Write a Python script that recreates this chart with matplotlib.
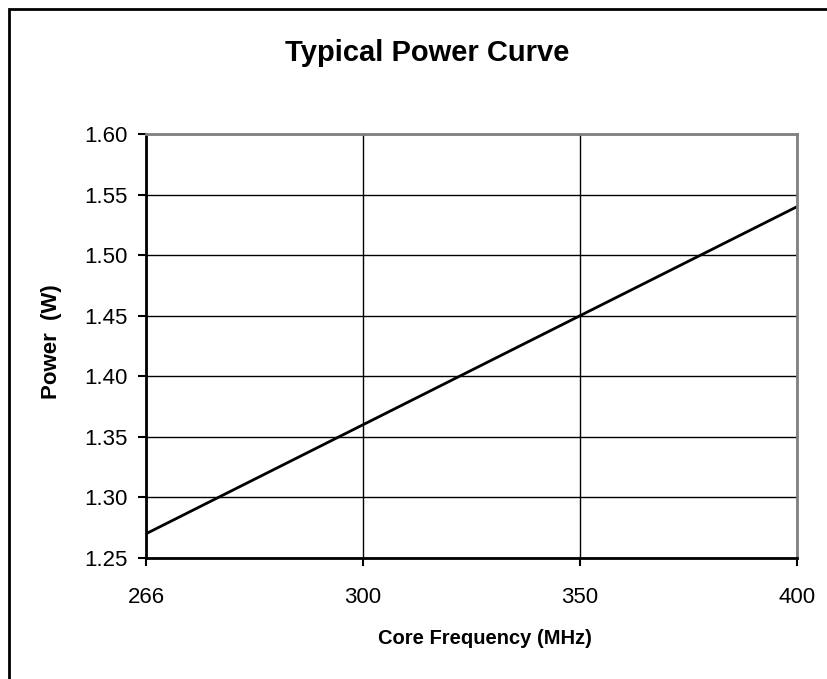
import matplotlib.pyplot as plt
from matplotlib.patches import Rectangle

FREQ_LABELS = ["266", "300", "350", "400"]
POWER = [1.27, 1.36, 1.45, 1.54]
Y_TICKS = [1.25, 1.30, 1.35, 1.40, 1.45, 1.50, 1.55, 1.60]

plt.rcParams["font.family"] = ["Liberation Sans", "DejaVu Sans"]

W, H = 827, 679
fig = plt.figure(figsize=(W / 100, H / 100), dpi=100)

# outer chart border (cut off at right/bottom like the source)
fig.patches.append(Rectangle((9 / W, -0.05), 1.1, 1 - 9 / H + 0.05,
                             transform=fig.transFigure, fill=False,
                             edgecolor="black", linewidth=2))

# plot area in pixels: left 146, right 797, top 134, bottom 558
ax = fig.add_axes([146 / W, 1 - 558 / H, (797 - 146) / W, (558 - 134) / H])
x = list(range(len(FREQ_LABELS)))
ax.plot(x, POWER, color="black", linewidth=2)

ax.set_xlim(0, len(FREQ_LABELS) - 1)
ax.set_ylim(1.25, 1.60)
ax.set_xticks(x)
ax.set_xticklabels(FREQ_LABELS)
ax.set_yticks(Y_TICKS)
ax.set_yticklabels([f"{v:.2f}" for v in Y_TICKS])
ax.grid(True, color="black", linewidth=1)
ax.tick_params(direction="out", length=6, width=1.5, labelsize=16)
ax.tick_params(axis="y", pad=7)
ax.tick_params(axis="x", pad=15)

for side in ["left", "bottom"]:
    ax.spines[side].set_color("black")
    ax.spines[side].set_linewidth(2)
for side in ["top", "right"]:
    ax.spines[side].set_color("gray")
    ax.spines[side].set_linewidth(2)

fig.text(427 / W, 1 - 53 / H, "Typical Power Curve", ha="center", va="center",
         fontsize=21, fontweight="bold")
fig.text(485 / W, 1 - 639 / H, "Core Frequency (MHz)", ha="center", va="center",
         fontsize=14.5, fontweight="bold")
fig.text(52 / W, 1 - 342 / H, "Power  (W)", ha="center", va="center",
         fontsize=16, fontweight="bold", rotation=90)

fig.savefig("out.png", dpi=100)
